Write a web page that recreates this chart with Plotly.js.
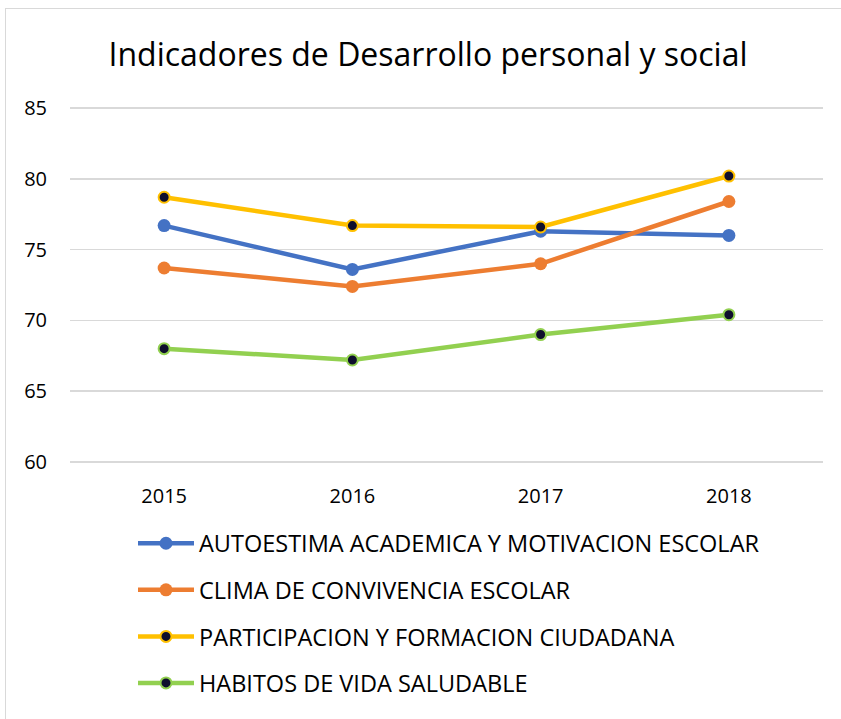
<!DOCTYPE html>
<html>
<head>
<meta charset="utf-8">
<script src="https://cdn.plot.ly/plotly-3.0.1.min.js"></script>
<style>
  html, body { margin: 0; padding: 0; background: #ffffff; overflow: hidden; }
  #frame { position: absolute; left: 5px; top: 8px; width: 860px; height: 740px; border: 1.5px solid #d9d9d9; box-sizing: border-box; }
  #chart { position: absolute; left: 0; top: 0; width: 841px; height: 719px; }
</style>
</head>
<body>
<div id="frame"></div>
<div id="chart"></div>
<script>
const years = ['2015', '2016', '2017', '2018'];
const autoestima = [76.7, 73.6, 76.3, 76.0];
const clima = [73.7, 72.4, 74.0, 78.4];
const participacion = [78.7, 76.7, 76.6, 80.2];
const habitos = [68.0, 67.2, 69.0, 70.4];
const seriesNames = [
  'AUTOESTIMA ACADEMICA Y MOTIVACION ESCOLAR',
  'CLIMA DE CONVIVENCIA ESCOLAR',
  'PARTICIPACION Y FORMACION CIUDADANA',
  'HABITOS DE VIDA SALUDABLE'
];
const yTicks = [60, 65, 70, 75, 80, 85];

const FONT = '"Open Sans", "Noto Sans", sans-serif';
const dark = '#0f0f2d';

function mk(name, y, color, darkMarker, group) {
  return {
    type: 'scatter', mode: 'lines+markers', name: name, x: years, y: y,
    legendgroup: group,
    line: { color: color, width: 4.5 },
    marker: darkMarker
      ? { size: 11, color: dark, line: { color: color, width: 2 } }
      : { size: 13, color: color, line: { width: 0 } }
  };
}

const data = [
  mk(seriesNames[0], autoestima, '#4472C4', false, 'g1'),
  mk(seriesNames[1], clima, '#ED7D31', false, 'g2'),
  mk(seriesNames[2], participacion, '#FFC000', true, 'g3'),
  mk(seriesNames[3], habitos, '#92D050', true, 'g4')
];

const layout = {
  width: 841, height: 719,
  margin: { l: 70, r: 18, t: 106, b: 255 },
  paper_bgcolor: 'rgba(0,0,0,0)', plot_bgcolor: '#ffffff',
  font: { family: FONT, color: '#000000' },
  title: {
    text: 'Indicadores de Desarrollo personal y social',
    font: { family: FONT, size: 32, color: '#000000' },
    x: 428 / 841, xanchor: 'center', y: 1 - 55 / 719, yanchor: 'middle', yref: 'container'
  },
  xaxis: {
    type: 'category', range: [-0.5, 3.5], showgrid: false, zeroline: false, showline: false,
    ticks: 'outside', ticklen: 14, tickcolor: 'rgba(0,0,0,0)',
    tickfont: { family: FONT, size: 20, color: '#000000' }
  },
  yaxis: {
    range: [59.85, 85.15], tickvals: yTicks, showgrid: true, gridcolor: '#d9d9d9', gridwidth: 1.5,
    zeroline: false, showline: false,
    ticks: 'outside', ticklen: 18, tickcolor: 'rgba(0,0,0,0)',
    tickfont: { family: FONT, size: 20, color: '#000000' }
  },
  showlegend: true,
  legend: {
    orientation: 'v', x: (133 - 70) / 753, xanchor: 'left',
    yref: 'container', y: 1 - 521.5 / 719, yanchor: 'top',
    font: { family: FONT, size: 23.5, color: '#000000' },
    tracegroupgap: 13, itemwidth: 56, traceorder: 'grouped',
    bgcolor: 'rgba(0,0,0,0)'
  }
};

Plotly.newPlot('chart', data, layout, { displayModeBar: false, staticPlot: true });
</script>
</body>
</html>
